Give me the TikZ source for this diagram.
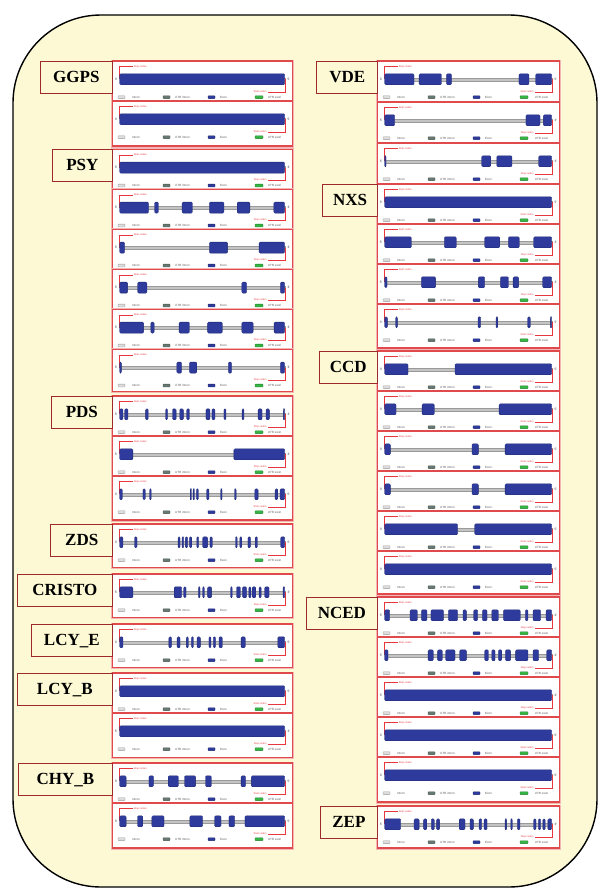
\documentclass[tikz,border=0pt]{standalone}
\usepackage{fontspec}
\setmainfont{Liberation Serif}
\newfontfamily\gpsans{Liberation Sans}
\definecolor{bgyellow}{HTML}{FCF9D4}
\definecolor{panelred}{HTML}{E04A4C}
\definecolor{boxred}{HTML}{9E2A2C}
\definecolor{exonblue}{HTML}{2E3B9C}
\definecolor{exonedge}{HTML}{1E2870}
\definecolor{introngray}{HTML}{C4C4C4}
\definecolor{introngrayedge}{HTML}{9A9A9A}
\definecolor{utrgreen}{HTML}{34B443}
\definecolor{utrgray}{HTML}{667870}
\definecolor{codonred}{HTML}{E8363D}
\tikzset{
  panelframe/.style={draw=panelred, line width=1.1pt, fill=white},
  panelouter/.style={draw=panelred!40, line width=0.8pt},
  exonbox/.style={fill=exonblue, draw=exonedge, line width=0.3pt, rounded corners=1.1pt},
  intronbar/.style={fill=introngray, draw=introngrayedge, line width=0.3pt},
  codonline/.style={draw=codonred, line width=0.45pt},
  codontext/.style={text=codonred, font=\gpsans\fontsize{2.5}{3}\selectfont, inner sep=0pt},
  legtext/.style={text=black!65, font=\gpsans\fontsize{3}{3.5}\selectfont, inner sep=0pt, anchor=west},
  legicon/.style={line width=0.3pt, rounded corners=0.6pt},
  strandtext/.style={font=\gpsans\fontsize{3.2}{3.6}\selectfont, inner sep=0pt, text=black!80},
  labelbox/.style={draw=boxred, line width=0.9pt, fill=bgyellow},
  labeltext/.style={font=\bfseries\fontsize{17}{17}\selectfont, inner sep=0pt, anchor=base},
  bgshape/.style={draw=black, line width=1.4pt, fill=bgyellow, rounded corners=88pt}
}
% [#1 height] #2 x, #3 y(top), #4 width, #5 orientation (5 or 3), #6 exon list (percent)
\newcommand\genepanel[6][40]{%
\begin{scope}[shift={(#2,#3)}]
 \pgfmathsetmacro\gpL{#4-15}%
 \pgfmathsetmacro\gpR{#4-8}%
 \draw[panelouter] (-0.9,-0.9) rectangle (#4+0.9,#1+0.9);
 \draw[panelframe] (0,0) rectangle (#4,#1);
 \draw[intronbar] (7,16.9) rectangle (\gpR,19.7);
 \draw[codonline] (6.6,18.3) -- (6.6,5.6) -- (20,5.6);
 \draw[codonline] (\gpR+0.4,18.3) -- (\gpR+0.4,31) -- (\gpR-17,31);
 \foreach \a/\b in {#6}{%
   \draw[exonbox] ({7+\a/100*\gpL},12.8) rectangle ({7+\b/100*\gpL},23.8);
 }
 \ifnum#5=5
   \node[codontext, anchor=west] at (21,5.6) {Start codon};
   \node[codontext, anchor=east] at (\gpR-18,31) {Stop codon};
   \node[strandtext] at (3.4,18.3) {5'};
   \node[strandtext] at (#4-3.9,18.3) {3'};
 \else
   \node[codontext, anchor=west] at (21,5.6) {Stop codon};
   \node[codontext, anchor=east] at (\gpR-18,31) {Start codon};
   \node[strandtext] at (3.4,18.3) {3'};
   \node[strandtext] at (#4-3.9,18.3) {5'};
 \fi
 \draw[legicon, fill=introngray!60, draw=introngrayedge] (5.3,34.8) rectangle (12.3,37.6);
 \node[legtext] at (19.3,36.2) {Intron};
 \draw[legicon, fill=utrgray, draw=utrgray!70!black] (50.3,34.8) rectangle (57.3,37.6);
 \node[legtext] at (62.3,36.2) {UTR intron};
 \draw[legicon, fill=exonblue, draw=exonedge] (95.3,34.8) rectangle (102.3,37.6);
 \node[legtext] at (107.3,36.2) {Exon};
 \draw[legicon, fill=utrgreen, draw=utrgreen!70!black] (142.3,34.8) rectangle (150.3,37.6);
 \node[legtext] at (#4-25,36.2) {UTR exon};
\end{scope}}
% #1 name, #2 x left, #3 y top, #4 x right, #5 text
\newcommand\genelabel[5]{%
 \draw[labelbox] (#2,#3) rectangle (#4,#3+32);
 \node[labeltext] (#1) at ({(#2+#4)/2},#3+21.6) {#5};}
\begin{document}
\begin{tikzpicture}[x=1pt,y=-1pt]
\useasboundingbox (0,0) rectangle (599,891);
\fill[white] (0,0) rectangle (599,891);
\draw[bgshape] (13,15) rectangle (597,887);

% ---------------- left column ----------------
\def\LX{112.7}\def\LW{180}
\genepanel{\LX}{61}{\LW}{3}{0/100}
\genepanel[45]{\LX}{101}{\LW}{3}{0/100}
\genelabel{lggps}{40}{61}{\LX}{GGPS}

\genepanel{\LX}{149.3}{\LW}{5}{0/100}
\genepanel{\LX}{189.3}{\LW}{5}{0/17.5,21.1/23.5,37.8/44.1,54.3/63.2,71.2/78.9,93.4/100}
\genepanel{\LX}{229.3}{\LW}{5}{0/3,54.3/65.4,84.5/100}
\genepanel{\LX}{269.3}{\LW}{5}{0/4.8,10.9/16.5,74/76.9,97.4/100}
\genepanel{\LX}{309.3}{\LW}{5}{0/14.5,18.9/20.9,36/42.3,53.3/62.2,74/80.9,93.6/100}
\genepanel[42.4]{\LX}{349.3}{\LW}{5}{0/1,34.6/37.6,42.3/46.7,65.8/67.8,97.4/100}
\genelabel{lpsy}{52}{149.3}{\LX}{PSY}

\genepanel{\LX}{396}{\LW}{5}{0/2,3/5,15.7/17.3,27.8/29,32/34.2,36.4/38.6,40.6/42.3,52.3/54.7,55.9/57.7,63.2/64.4,74.2/75.3,83.9/86.3,88.7/90.7,99.2/100}
\genepanel{\LX}{436}{\LW}{5}{0/8,69.2/100}
\genepanel[44]{\LX}{476}{\LW}{3}{0/1.6,14.1/15.5,18.1/19.1,42.7/43.5,44.5/45.3,46.5/47.7,52.7/54.1,61.2/62,69.6/70.6,81.9/83.9,94.2/95.8,97.2/100}
\genelabel{lpds}{51}{396}{\LX}{PDS}

\genepanel[43.5]{\LX}{524}{\LW}{3}{0/2,9/10.5,35.4/36.6,37.8/38.8,39.8/41.2,42.3/43.7,46.7/47.9,50.3/53.3,54.7/56.1,70.2/71.2,72.8/74,77.7/79.3,82.1/83.5,97.6/100}
\genelabel{lzds}{50.7}{524}{\LX}{ZDS}

\genepanel[43.5]{\LX}{574}{\LW}{5}{0/8,33/37.6,38.8/40.2,47.7/48.7,50.3/51.3,53.3/55.7,67.2/68.2,70.8/73.2,74.4/76.9,78.3/79.5,80.3/82.5,84.5/85.7,87.9/90.5,99/100}
\genelabel{lcristo}{17}{574}{\LX}{CRISTO}

\genepanel[43.5]{\LX}{624}{\LW}{3}{0/2,29.8/31.4,34.8/36.6,40.4/41.6,43.5/44.7,46.9/48.9,54.1/55.3,56.7/58.1,60.2/62.2,73.6/76.1,95.8/100}
\genelabel{llcye}{31}{624}{\LX}{LCY\_E}

\genepanel{\LX}{673}{\LW}{3}{0/100}
\genepanel[44.5]{\LX}{713}{\LW}{5}{0/100}
\genelabel{llcyb}{17}{673}{\LX}{LCY\_B}

\genepanel{\LX}{763}{\LW}{3}{0/3.9,17.7/20.5,29.4/35.6,39.3/46,52/55.6,73.6/76.3,79.8/100}
\genepanel[45]{\LX}{803}{\LW}{3}{0/3.9,10.8/14,19.5/26.9,42.5/50.3,57.5/61.4,66.2/69.7,75.9/100}
\genelabel{lchyb}{18}{763}{\LX}{CHY\_B}

% ---------------- right column ----------------
\def\RX{377.7}\def\RW{182}
\genepanel[41]{\RX}{61}{\RW}{3}{0/17.6,20.6/34,37/40,80.4/86.4,90.4/100}
\genepanel[41]{\RX}{102}{\RW}{5}{0/6,84.6/93,95/100}
\genepanel[41]{\RX}{143}{\RW}{5}{0/0.8,58.1/63.5,67.1/76.2,92.2/100}
\genelabel{lvde}{316.7}{61}{\RX}{VDE}

\genepanel{\RX}{184}{\RW}{3}{0/100}
\genepanel{\RX}{224}{\RW}{5}{0/16,35.7/42.9,59.9/68.9,74.1/80.6,89.2/100}
\genepanel{\RX}{264}{\RW}{5}{0/1.4,22/30.5,56.1/59.9,69.3/74.1,76.9/80.2,94.6/100}
\genepanel[44]{\RX}{304}{\RW}{3}{0/1.6,6.6/7.6,55.9/57.5,66.7/67.7,85.6/87.2,99.2/100}
\genelabel{lnxs}{322.7}{184}{\RX}{NXS}

\genepanel{\RX}{351}{\RW}{3}{0/14,42.1/100}
\genepanel{\RX}{391}{\RW}{3}{0/6.8,22.4/29.7,68.5/100}
\genepanel{\RX}{431}{\RW}{3}{0/3.4,52.3/56.1,72.1/100}
\genepanel{\RX}{471}{\RW}{3}{0/3.4,52.3/56.1,72.1/100}
\genepanel{\RX}{511}{\RW}{3}{0/43.7,53.9/100}
\genepanel[43]{\RX}{551}{\RW}{3}{0/100}
\genelabel{lccd}{319}{351}{\RX}{CCD}

\genepanel{\RX}{597}{\RW}{5}{0/3,15.2/19.6,22/25.3,27.7/35.3,38.1/43.7,46.9/48.9,53.3/55.7,58.5/61.3,64.1/68.1,71.1/81.2,84.2/85.8,88.8/93.4,96.6/100}
\genepanel{\RX}{637}{\RW}{5}{0/2,26/29.1,31.7/34.5,36.5/42.1,44.9/48.9,59.9/62.1,64.1/66.1,68.1/70.1,72.3/75.4,78.4/85.8,88.8/92.2,97/100}
\genepanel{\RX}{677}{\RW}{5}{0/100}
\genepanel{\RX}{717}{\RW}{3}{0/100}
\genepanel[45]{\RX}{757}{\RW}{3}{0/100}
\genelabel{lnced}{306}{597}{\RX}{NCED}

\genepanel[42]{\RX}{806}{\RW}{5}{0/9.6,17.6/20.6,23.3/25.2,27.9/29.7,31.1/32.9,44.6/48.1,51.1/53.1,56.5/58.1,59.5/61.3,72.1/73,75.5/76.4,79.4/81,89.2/90.6,92/93.4,94.7/96.1,97.7/100}
\genelabel{lzep}{320}{806}{\RX}{ZEP}
\end{tikzpicture}
\end{document}
